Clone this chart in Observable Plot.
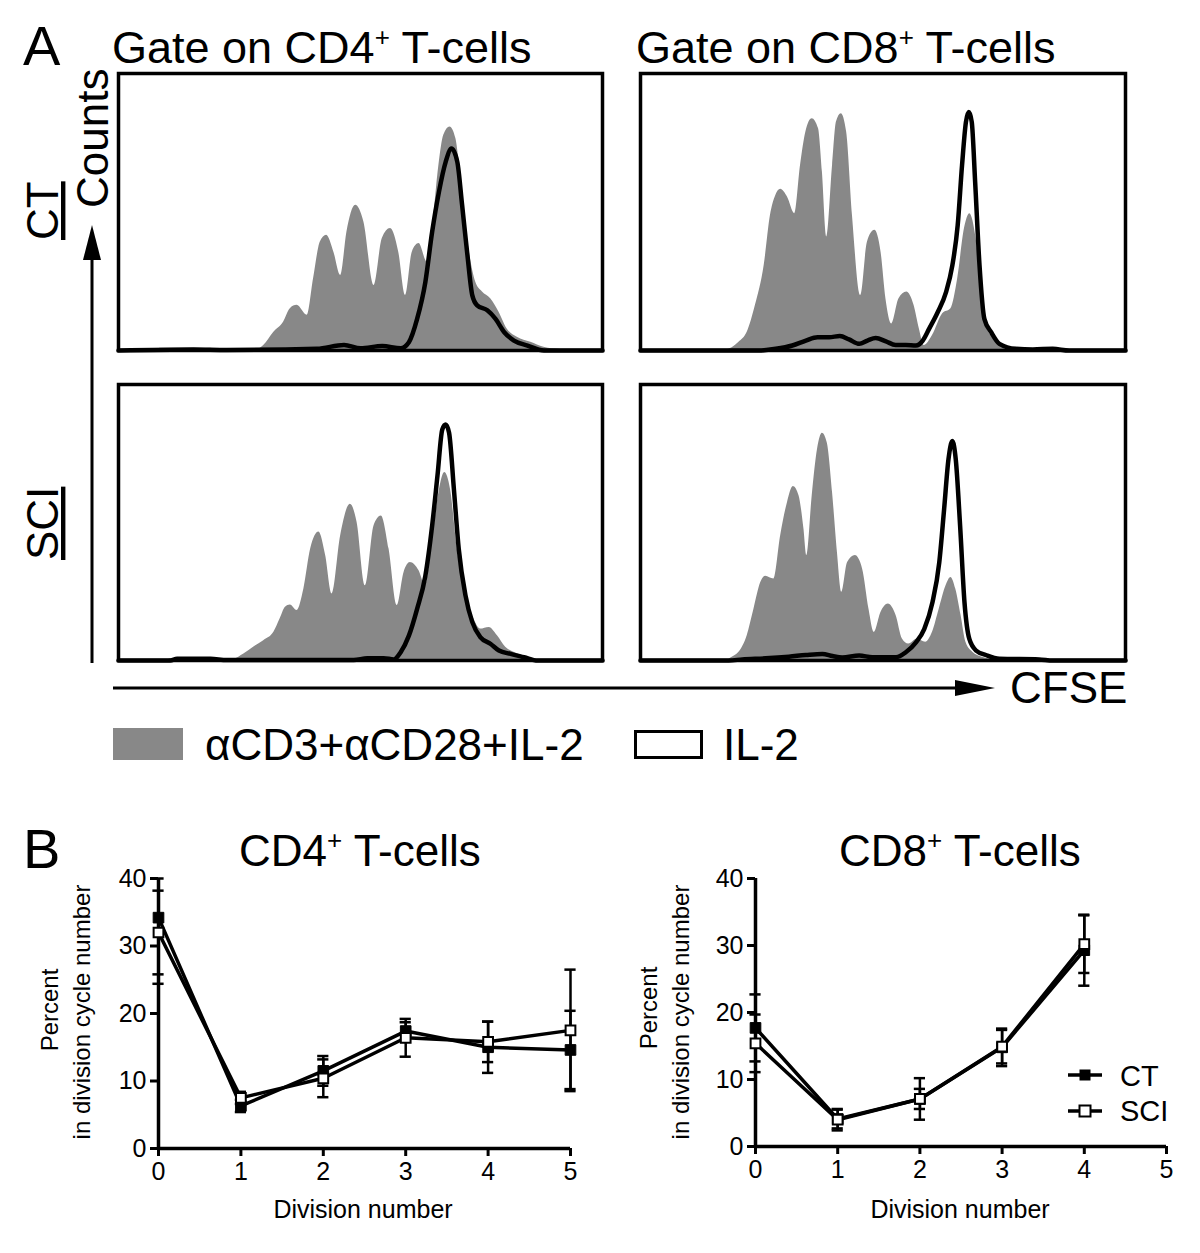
<!DOCTYPE html>
<html>
<head>
<meta charset="utf-8">
<script src="https://cdn.jsdelivr.net/npm/d3@7"></script>
<script src="https://cdn.jsdelivr.net/npm/@observablehq/plot@0.6"></script>
<style>
  html, body { margin: 0; padding: 0; background: #fff; }
  #root { position: relative; width: 1200px; height: 1253px; overflow: hidden; background: #fff;
          font-family: "Liberation Sans", Arial, sans-serif; }
  .pl { position: absolute; }
  #overlay { position: absolute; left: 0; top: 0; }
</style>
</head>
<body>
<div id="root">
  <svg id="overlay" width="1200" height="1253" font-family="Liberation Sans, Arial, sans-serif" fill="black">
    <!-- Panel A labels -->
    <text x="23" y="65" font-size="56">A</text>
    <text x="112" y="63" font-size="45">Gate on CD4<tspan font-size="26" dy="-17">+</tspan><tspan dy="17"> T-cells</tspan></text>
    <text x="636" y="63" font-size="45">Gate on CD8<tspan font-size="26" dy="-17">+</tspan><tspan dy="17"> T-cells</tspan></text>
    <text transform="translate(108,208) rotate(-90)" font-size="44">Counts</text>
    <text transform="translate(58,240) rotate(-90)" font-size="44" text-decoration="underline">CT</text>
    <text transform="translate(58,560) rotate(-90)" font-size="44" text-decoration="underline">SCI</text>
    <line x1="92" y1="663" x2="92" y2="250" stroke="black" stroke-width="3"/>
    <polygon points="92,225 83,260 101,260" fill="black"/>
    <line x1="113" y1="688" x2="965" y2="688" stroke="black" stroke-width="3"/>
    <polygon points="995,688 955,680 955,696" fill="black"/>
    <text x="1010" y="703" font-size="44">CFSE</text>
    <rect x="113" y="728" width="70" height="32" fill="#888888"/>
    <text x="205" y="760" font-size="44">αCD3+αCD28+IL-2</text>
    <rect x="635.5" y="731.5" width="66" height="26" fill="none" stroke="black" stroke-width="3"/>
    <text x="723" y="760" font-size="44">IL-2</text>
    <!-- Panel B labels -->
    <text x="23" y="868" font-size="56">B</text>
    <text x="239" y="866" font-size="44">CD4<tspan font-size="26" dy="-17">+</tspan><tspan dy="17"> T-cells</tspan></text>
    <text x="839" y="866" font-size="44">CD8<tspan font-size="26" dy="-17">+</tspan><tspan dy="17"> T-cells</tspan></text>
    <text transform="translate(58,1010) rotate(-90)" font-size="24" text-anchor="middle">Percent</text>
    <text transform="translate(90,1012) rotate(-90)" font-size="24" text-anchor="middle">in division cycle number</text>
    <text transform="translate(657,1008) rotate(-90)" font-size="24" text-anchor="middle">Percent</text>
    <text transform="translate(689,1012) rotate(-90)" font-size="24" text-anchor="middle">in division cycle number</text>
    <text x="363" y="1218" font-size="25" text-anchor="middle">Division number</text>
    <text x="960" y="1218" font-size="25" text-anchor="middle">Division number</text>
    <!-- CD8 legend -->
    <line x1="1068" y1="1075" x2="1102" y2="1075" stroke="black" stroke-width="3.5"/>
    <rect x="1079.5" y="1069.5" width="11" height="11" fill="black"/>
    <text x="1120" y="1086" font-size="29">CT</text>
    <line x1="1068" y1="1111" x2="1102" y2="1111" stroke="black" stroke-width="3.5"/>
    <rect x="1079.5" y="1105.5" width="11" height="11" fill="white" stroke="black" stroke-width="2"/>
    <text x="1120" y="1121" font-size="29">SCI</text>
  </svg>
</div>
<script>
// ---------- Panel A: CFSE histograms ([CFSE channel 0-1000, counts 0-100]) ----------
const cd4CtStim = [[0,0],[79,0],[86,0.8],[190,0.8],[205,0],[279,0],[300,1.8],[321,6.6],[341,10.2],[355,15.1],[369,16.3],[390,12.7],[403,25.9],[417,39.2],[430,41.6],[445,35.5],[459,27.1],[472,42.8],[490,52.4],[507,46.4],[528,23.5],[545,40.4],[562,44],[579,35.5],[593,19.9],[607,35.5],[621,38.6],[638,31.9],[648,42.8],[662,66.9],[672,77.7],[685,80.7],[697,76.5],[710,57.2],[724,36.7],[738,24.7],[752,21.1],[769,18.7],[786,13.9],[803,7.8],[824,4.8],[852,3],[879,1.2],[914,0.4],[948,0],[1000,0]];
const cd4CtIl2 = [[0,0],[155,0.4],[224,0.2],[410,0.6],[466,2],[500,0.8],[545,1.6],[583,0.8],[600,3],[617,11.4],[634,24.7],[648,42.8],[662,57.2],[676,68.1],[688,72.9],[700,68.1],[710,52.4],[721,34.3],[731,19.9],[741,16.3],[762,14.5],[779,11.4],[797,6.6],[817,3.6],[845,1.8],[879,0],[1000,0]];
const cd8CtStim = [[0,0],[134,0],[175,0.2],[203,3],[220,6.6],[237,16.3],[255,30.7],[268,48.8],[279,56],[289,58.2],[303,55.4],[318,49.4],[330,66.9],[341,78.9],[354,83.7],[367,80.1],[375,64.5],[384,41],[396,66.9],[404,82.5],[414,85.5],[425,78.9],[437,48.8],[454,19.9],[468,39.2],[483,43.4],[496,35.5],[506,18.7],[518,9.6],[533,18.7],[549,21.1],[564,16.3],[575,7.8],[585,1.8],[602,5.4],[623,13.3],[640,15.1],[654,25.9],[668,44],[679,49.4],[692,40.4],[702,24.7],[712,9],[726,4.8],[740,1.8],[761,0.2],[790,0],[1000,0]];
const cd8CtIl2 = [[0,0],[244,0],[279,0.6],[313,1.8],[341,3.6],[365,4.8],[389,4.8],[411,5.2],[430,4],[451,2.4],[468,3.6],[485,4.5],[506,3.3],[526,2],[547,2],[568,1.8],[582,3.6],[595,7.8],[613,13.9],[630,21.1],[643,30.7],[654,45.2],[663,66.9],[671,82.5],[677,86.1],[683,82.5],[690,60.8],[699,30.7],[709,11.4],[723,6.6],[740,2.4],[774,0.6],[809,0.4],[850,0.6],[884,0],[1000,0]];
const cd4SciStim = [[0,0],[100,0],[107,0.6],[190,0.6],[238,0.6],[259,2.4],[279,4.8],[300,7.2],[321,10.2],[334,15.1],[345,19.3],[355,20.1],[369,18.1],[383,25.9],[397,40.4],[414,46.6],[428,38],[441,24.1],[459,45.2],[479,56.6],[493,50],[510,27.1],[528,48.8],[543,52.4],[559,40.4],[576,19.9],[590,31.9],[603,35.5],[621,32.5],[634,27.1],[648,42.8],[662,60.8],[674,68.1],[686,62],[700,40.4],[717,23.5],[734,15.1],[748,11.4],[766,12],[783,9],[800,4.8],[817,3],[845,1.2],[872,0],[1000,0]];
const cd4SciIl2 = [[0,0],[107,0],[121,0.6],[190,0.6],[224,0.2],[486,0.2],[514,0.8],[548,0.8],[569,0.4],[583,3],[600,9],[617,18.7],[634,30.7],[648,48.8],[659,66.9],[669,83.7],[676,85.5],[683,82.5],[693,62],[703,40.4],[717,23.5],[731,13.9],[748,8.4],[769,6],[786,3.6],[810,2.4],[838,1.2],[866,0],[1000,0]];
const cd8SciStim = [[0,0],[175,0],[189,1.2],[203,3],[220,9],[234,18.7],[248,28.3],[258,30.5],[275,29.5],[289,45.2],[303,57.2],[315,63],[327,59.6],[337,47.6],[343,38],[354,59.6],[365,76.5],[375,82.3],[385,78.9],[396,60.8],[406,39.2],[415,24.7],[427,35.5],[443,38],[458,33.1],[471,18.7],[482,10.2],[496,17.5],[511,20.5],[527,16.3],[540,7.8],[553,6],[571,7.8],[588,6.6],[602,10.2],[616,18.7],[630,27.1],[640,30.1],[650,25.9],[661,16.3],[671,6.6],[685,3],[705,1.2],[733,0.2],[740,0],[1000,0]];
const cd8SciIl2 = [[0,0],[182,0],[210,0.4],[258,0.8],[306,1.4],[341,2],[375,2.4],[396,1.6],[416,1.1],[451,1.8],[478,1.2],[527,1.2],[547,3],[568,6.6],[585,11.4],[602,21.1],[616,35.5],[626,54.8],[635,72.9],[643,79.5],[650,72.9],[659,48.8],[668,21.1],[678,7.8],[692,3.6],[712,2],[740,0.6],[822,0.4],[850,0],[1000,0]];

// ---------- Panel B: percent in division cycle ----------
const divisions = [0, 1, 2, 3, 4, 5];
const cd4CT = [34.2, 6.3, 11.5, 17.4, 15.0, 14.6];
const cd4CTerr = [9.8, 0.9, 2.2, 1.3, 3.8, 5.8];
const cd4SCI = [32.0, 7.5, 10.4, 16.4, 15.8, 17.5];
const cd4SCIerr = [6.2, 0.9, 2.8, 2.8, 3.0, 9.0];
const cd8Divisions = [0, 1, 2, 3, 4];
const cd8CT = [17.7, 4.1, 7.1, 14.8, 29.3];
const cd8CTerr = [5.0, 1.4, 3.1, 2.8, 5.3];
const cd8SCI = [15.4, 4.0, 7.1, 14.9, 30.2];
const cd8SCIerr = [4.3, 1.6, 1.5, 2.5, 4.3];
const yTicks = [0, 10, 20, 30, 40];

const root = document.getElementById("root");
const overlay = document.getElementById("overlay");
function place(el, left, top) {
  const d = document.createElement("div");
  d.className = "pl";
  d.style.left = left + "px";
  d.style.top = top + "px";
  d.appendChild(el);
  root.insertBefore(d, overlay);
}

const FONT = "Liberation Sans, Arial, sans-serif";

function histogram(stim, il2, w, h) {
  return Plot.plot({
    width: w, height: h, margin: 2,
    x: {domain: [0, 1000], axis: null},
    y: {domain: [0, 100], axis: null},
    style: {background: "transparent", overflow: "visible"},
    marks: [
      Plot.areaY(stim, {x: d => d[0], y: d => d[1], fill: "#888888", curve: "monotone-x"}),
      Plot.lineY(il2, {x: d => d[0], y: d => d[1], stroke: "black", strokeWidth: 4.5, curve: "monotone-x", strokeLinejoin: "round"}),
      Plot.frame({stroke: "black", strokeWidth: 3.5})
    ]
  });
}

place(histogram(cd4CtStim, cd4CtIl2, 488, 281), 116, 71);
place(histogram(cd8CtStim, cd8CtIl2, 489, 281), 638, 71);
place(histogram(cd4SciStim, cd4SciIl2, 488, 280), 116, 382);
place(histogram(cd8SciStim, cd8SciIl2, 489, 280), 638, 382);

function rows(xs, ct, cte, sci, scie) {
  const out = [];
  xs.forEach((d, i) => {
    out.push({d, series: "CT", v: ct[i], e: cte[i]});
    out.push({d, series: "SCI", v: sci[i], e: scie[i]});
  });
  return out;
}

function divisionPlot(data, margins) {
  const capHalf = 0.068;
  const lo = d => Math.max(0, d.v - d.e);
  const hi = d => Math.min(40, d.v + d.e);
  const caps = data.flatMap(d => [{d: d.d, y: lo(d)}, {d: d.d, y: hi(d)}]);
  return Plot.plot({
    width: 600, height: 400,
    marginLeft: margins.left, marginRight: margins.right,
    marginTop: margins.top, marginBottom: margins.bottom,
    x: {domain: [0, 5], axis: null},
    y: {domain: [0, 40], axis: null},
    style: {background: "transparent", overflow: "visible", fontFamily: FONT, fontSize: "25px", color: "black"},
    marks: [
      Plot.axisX({ticks: divisions, tickSize: 8, strokeWidth: 3, tickPadding: 6, fontSize: 25, label: null, tickFormat: d => String(d)}),
      Plot.axisY({ticks: yTicks, tickSize: 8, strokeWidth: 3, tickPadding: 4, fontSize: 25, label: null, tickFormat: d => String(d)}),
      Plot.ruleY([0], {stroke: "black", strokeWidth: 3.5}),
      Plot.ruleX([0], {stroke: "black", strokeWidth: 3.5}),
      Plot.ruleX(data, {x: "d", y1: lo, y2: hi, stroke: "black", strokeWidth: 2.5}),
      Plot.ruleY(caps, {y: "y", x1: d => d.d - capHalf, x2: d => d.d + capHalf, stroke: "black", strokeWidth: 2.5}),
      Plot.line(data, {x: "d", y: "v", z: "series", stroke: "black", strokeWidth: 3.5}),
      Plot.dot(data.filter(d => d.series === "CT"), {x: "d", y: "v", symbol: "square", r: 6, fill: "black", stroke: "black", strokeWidth: 1}),
      Plot.dot(data.filter(d => d.series === "SCI"), {x: "d", y: "v", symbol: "square", r: 5.5, fill: "white", stroke: "black", strokeWidth: 2})
    ]
  });
}

place(divisionPlot(rows(divisions, cd4CT, cd4CTerr, cd4SCI, cd4SCIerr), {left: 158, right: 30, top: 28, bottom: 102}), 0, 850);
place(divisionPlot(rows(cd8Divisions, cd8CT, cd8CTerr, cd8SCI, cd8SCIerr), {left: 155, right: 34, top: 28, bottom: 104}), 600, 850);
</script>
</body>
</html>
